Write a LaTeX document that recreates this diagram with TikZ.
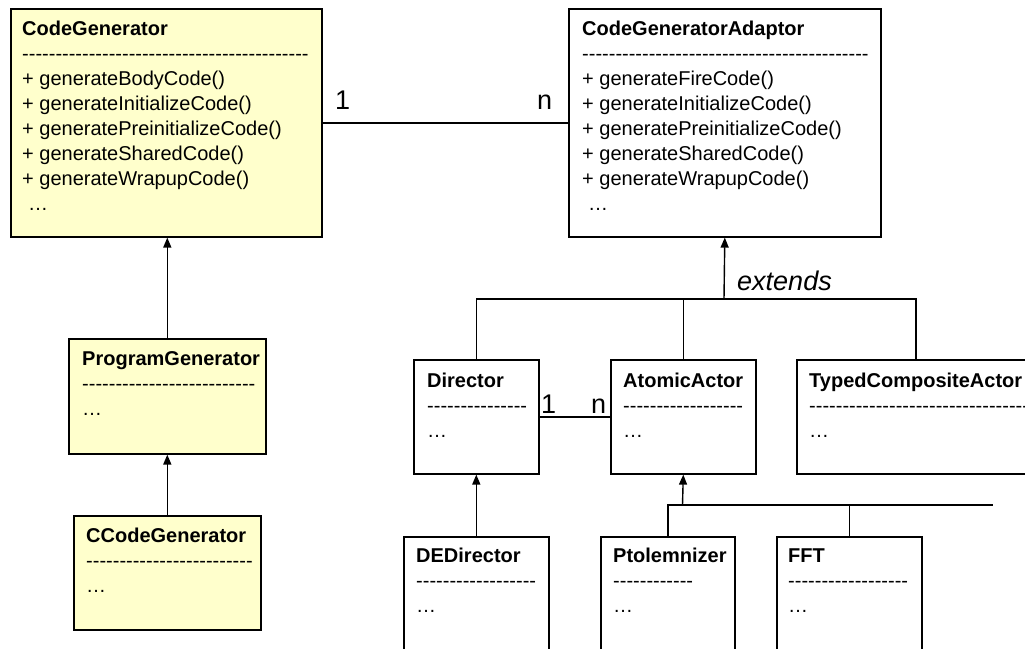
\documentclass[tikz,border=0pt]{standalone}
\usepackage{fontspec}
\newfontfamily\arial{Liberation Sans}
\usetikzlibrary{arrows.meta}
\ExplSyntaxOn
\cs_new:Npn \hyphens #1 { \prg_replicate:nn {#1} { -{} } }
\ExplSyntaxOff
\definecolor{classyellow}{RGB}{255,255,204}
\newcommand\firstline{\rule{0pt}{20pt}}

\begin{document}
\begin{tikzpicture}[x=1pt,y=-1pt,
  classbox/.style={draw=black, line width=1.6pt, fill=white, inner sep=0pt,
                   anchor=north west},
  genbox/.style={classbox, fill=classyellow},
  members/.style={font=\arial\fontsize{20}{25}\selectfont, align=left,
                  inner sep=0pt, anchor=north west},
  link/.style={draw=black, line width=1.4pt},
  inherit/.style={link, -{Triangle[length=10pt,width=8pt]}},
  mult/.style={font=\arial\fontsize{27}{30}\selectfont, inner sep=0pt,
               anchor=base west},
  note/.style={font=\arial\itshape\fontsize{27}{30}\selectfont, inner sep=0pt,
               anchor=base west}]

\useasboundingbox (0,0) rectangle (1025,648);
\clip (0,0) rectangle (1025,648);

% ---------- class boxes ----------
\node[genbox, minimum width=311, minimum height=228] (cg)  at (10,8)    {};
\node[classbox, minimum width=312, minimum height=228] (cga) at (568,8) {};
\node[genbox, minimum width=197, minimum height=115] (pg)  at (68,338)  {};
\node[genbox, minimum width=187, minimum height=114] (ccg) at (73,515)  {};
\node[classbox, minimum width=125, minimum height=114] (dir) at (413,359) {};
\node[classbox, minimum width=145, minimum height=114] (aa)  at (610,359) {};
\node[classbox, minimum width=238, minimum height=114] (tca) at (796,359) {};
\node[classbox, minimum width=145, minimum height=150] (ded) at (403,536) {};
\node[classbox, minimum width=134, minimum height=150] (pto) at (600,536) {};
\node[classbox, minimum width=145, minimum height=150] (fft) at (776,536) {};

% ---------- class contents ----------
\node[members] (cg-t) at ([shift={(12,7)}]cg.north west)
  {\firstline\textbf{CodeGenerator}\\ \hyphens{43}\\
   + generateBodyCode()\\ + generateInitializeCode()\\
   + generatePreinitializeCode()\\ + generateSharedCode()\\
   + generateWrapupCode()\\ \hspace{6pt}…};
\node[members] (cga-t) at ([shift={(14,7)}]cga.north west)
  {\firstline\textbf{CodeGeneratorAdaptor}\\ \hyphens{43}\\
   + generateFireCode()\\ + generateInitializeCode()\\
   + generatePreinitializeCode()\\ + generateSharedCode()\\
   + generateWrapupCode()\\ \hspace{6pt}…};
\node[members] (pg-t) at ([shift={(14,7)}]pg.north west)
  {\firstline\textbf{ProgramGenerator}\\ \hyphens{26}\\ …};
\node[members] (ccg-t) at ([shift={(13,7)}]ccg.north west)
  {\firstline\textbf{CCodeGenerator}\\ \hyphens{25}\\ …};
\node[members] (dir-t) at ([shift={(14,8)}]dir.north west)
  {\firstline\textbf{Director}\\ \hyphens{15}\\ …};
\node[members] (aa-t) at ([shift={(13,8)}]aa.north west)
  {\firstline\textbf{AtomicActor}\\ \hyphens{18}\\ …};
\node[members] (tca-t) at ([shift={(13,8)}]tca.north west)
  {\firstline\textbf{TypedCompositeActor}\\ \hyphens{34}\\ …};
\node[members] (ded-t) at ([shift={(13,6)}]ded.north west)
  {\firstline\textbf{DEDirector}\\ \hyphens{18}\\ …};
\node[members] (pto-t) at ([shift={(13,6)}]pto.north west)
  {\firstline\textbf{Ptolemnizer}\\ \hyphens{12}\\ …};
\node[members] (fft-t) at ([shift={(12,6)}]fft.north west)
  {\firstline\textbf{FFT}\\ \hyphens{18}\\ …};

% ---------- associations ----------
\draw[link] (cg.east) -- (cga.west);
\node[mult] (cg-m) at (335,109) {1};
\node[mult] (cga-m) at (537,109) {n};

\draw[link] (dir.east) -- (aa.west);
\node[mult] (dir-m) at (541,413) {1};
\node[mult] (aa-m) at (591,413) {n};

% ---------- generalisations: left column ----------
\draw[inherit] (pg.north) -- (pg.north |- cg.south);
\draw[inherit] (ccg.north) -- (ccg.north |- pg.south);

% ---------- generalisations: adaptor tree ----------
\coordinate (upper) at (724,299);
\draw[link] (dir.north) |- (tca.north |- upper) -- (tca.north);
\draw[link] (aa.north) -- (aa.north |- upper);
\draw[inherit] (upper) -- (cga.south);
\node[note] (ext) at (737,290) {extends};

\draw[inherit] (ded.north) -- (ded.north |- dir.south);

\coordinate (lower) at (682.5,505);
\coordinate (lowerend) at (993,505);
\draw[link] (pto.north) |- (lowerend);
\draw[link] (fft.north) -- (fft.north |- lower);
\draw[inherit] (lower) -- (aa.south);
\end{tikzpicture}
\end{document}
